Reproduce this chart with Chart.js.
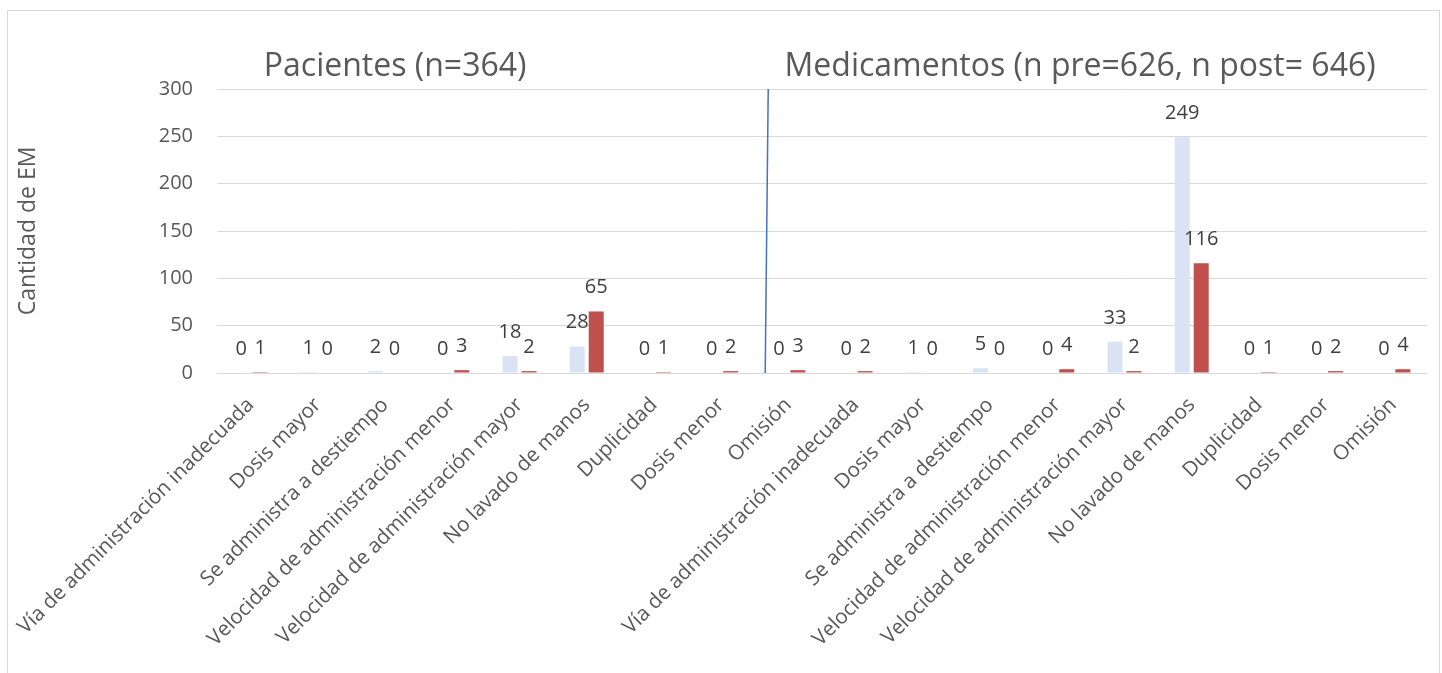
<!DOCTYPE html>
<html>
<head>
<meta charset="utf-8">
<script src="https://cdn.jsdelivr.net/npm/chart.js@4.4.1/dist/chart.umd.min.js"></script>
<style>
  html, body { margin: 0; padding: 0; background: #ffffff; }
  #wrap { position: relative; width: 1442px; height: 673px; }
</style>
</head>
<body>
<div id="wrap"><canvas id="chart" width="1442" height="673"></canvas></div>
<script>
// Error types, repeated for the patient block and the medication block
const errorTypes = [
  'Vía de administración inadecuada',
  'Dosis mayor',
  'Se administra a destiempo',
  'Velocidad de administración menor',
  'Velocidad de administración mayor',
  'No lavado de manos',
  'Duplicidad',
  'Dosis menor',
  'Omisión'
];
const categories = errorTypes.concat(errorTypes);

// Medication-error counts before and after the intervention
const preValues  = [0, 1, 2, 0, 18, 28, 0, 0, 0,   0, 1, 5, 0, 33, 249, 0, 0, 0];
const postValues = [1, 0, 0, 3, 2, 65, 1, 2, 3,    2, 0, 0, 4, 2, 116, 1, 2, 4];

const yTicks = [0, 50, 100, 150, 200, 250, 300];

const groupTitles = ['Pacientes (n=364)', 'Medicamentos (n pre=626, n post= 646)'];
const axisTitle = 'Cantidad de EM';

const FONT = '"Open Sans", "DejaVu Sans", sans-serif';
const TEXT_GREY = '#595959';
const LABEL_DARK = '#404040';

// Frame, block titles, axis title, separator and value labels
const decorations = {
  id: 'decorations',
  beforeDraw(chart) {
    const ctx = chart.ctx;
    ctx.save();
    ctx.fillStyle = '#ffffff';
    ctx.fillRect(0, 0, chart.width, chart.height);
    ctx.strokeStyle = '#d9d9d9';
    ctx.lineWidth = 1;
    ctx.strokeRect(7.5, 10.5, 1432, 700);
    ctx.restore();
  },
  afterDatasetsDraw(chart) {
    const ctx = chart.ctx;
    const x = chart.scales.x;
    const area = chart.chartArea;
    ctx.save();

    // separator between the two blocks
    const step = x.getPixelForValue(1) - x.getPixelForValue(0);
    const base = x.getPixelForValue(7);
    ctx.strokeStyle = '#4472c4';
    ctx.lineWidth = 1.5;
    ctx.beginPath();
    ctx.moveTo(base + 0.70 * step, area.top);
    ctx.lineTo(base + 0.655 * step, area.bottom);
    ctx.stroke();

    // value labels above each bar
    ctx.fillStyle = LABEL_DARK;
    ctx.font = '20px ' + FONT;
    ctx.textAlign = 'center';
    ctx.textBaseline = 'alphabetic';
    chart.data.datasets.forEach((ds, di) => {
      const meta = chart.getDatasetMeta(di);
      meta.data.forEach((bar, i) => {
        ctx.fillText(String(ds.data[i]), bar.x, bar.y - 18);
      });
    });

    // block titles
    ctx.fillStyle = TEXT_GREY;
    ctx.font = '32px ' + FONT;
    ctx.fillText(groupTitles[0], x.getPixelForValue(2.15), 76);
    ctx.fillText(groupTitles[1], x.getPixelForValue(12.34), 76);

    // vertical axis title
    ctx.font = '23px ' + FONT;
    ctx.translate(28, (area.top + area.bottom) / 2);
    ctx.rotate(-Math.PI / 2);
    ctx.textBaseline = 'middle';
    ctx.fillText(axisTitle, 0, 0);
    ctx.restore();
  }
};

new Chart(document.getElementById('chart'), {
  type: 'bar',
  data: {
    labels: categories,
    datasets: [
      { label: 'Pre', data: preValues, backgroundColor: '#dae3f3', borderWidth: 0 },
      { label: 'Post', data: postValues, backgroundColor: '#c0504d', borderWidth: 0 }
    ]
  },
  options: {
    responsive: false,
    animation: false,
    devicePixelRatio: 1,
    categoryPercentage: 0.565,
    barPercentage: 0.79,
    layout: { padding: { top: 89, right: 15, left: 0, bottom: 0 } },
    plugins: {
      legend: { display: false },
      tooltip: { enabled: false },
      title: { display: false }
    },
    scales: {
      x: {
        grid: { display: false },
        border: { display: false },
        ticks: {
          autoSkip: false,
          maxRotation: 45,
          minRotation: 45,
          padding: 12,
          color: TEXT_GREY,
          font: { family: FONT, size: 20.6 }
        },
        afterFit(scale) { scale.height = 300; }
      },
      y: {
        min: yTicks[0],
        max: yTicks[yTicks.length - 1],
        afterBuildTicks(scale) { scale.ticks = yTicks.map(v => ({ value: v })); },
        grid: { color: '#d9d9d9', lineWidth: 1, drawTicks: false },
        border: { display: false },
        ticks: {
          padding: 24,
          color: TEXT_GREY,
          font: { family: FONT, size: 20 }
        },
        afterFit(scale) { scale.width = 217; }
      }
    }
  },
  plugins: [decorations]
});
</script>
</body>
</html>
